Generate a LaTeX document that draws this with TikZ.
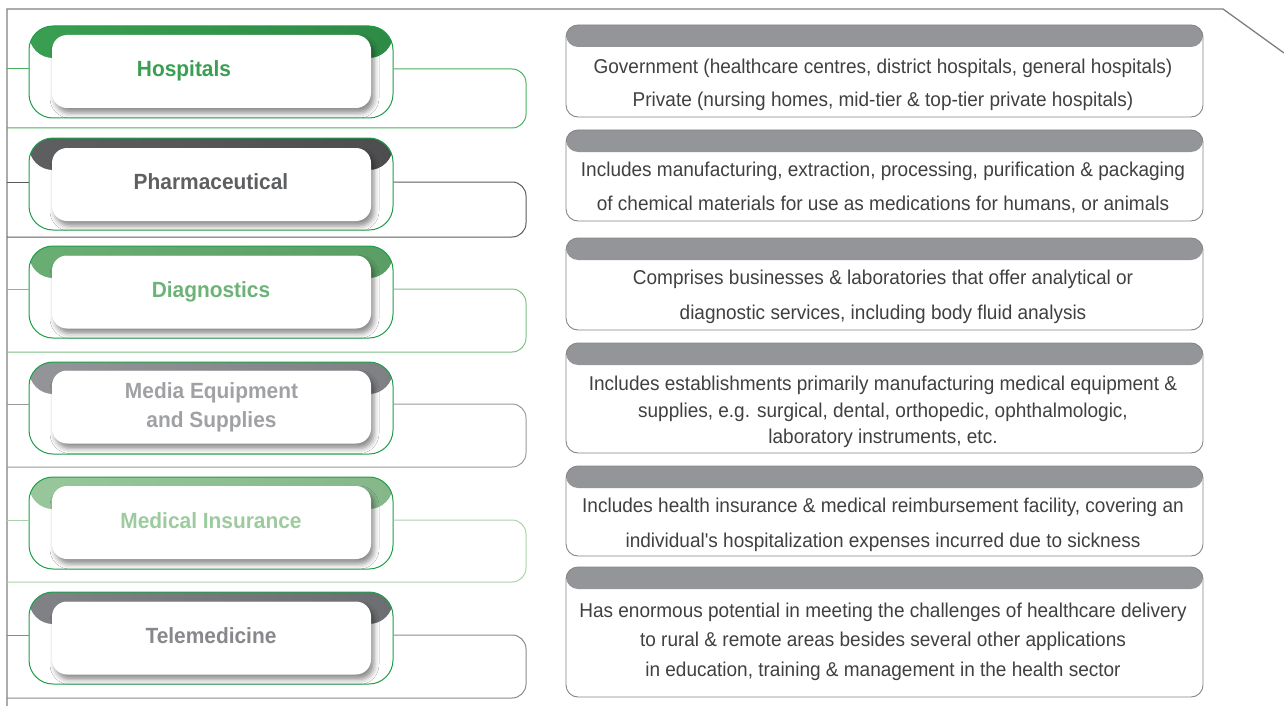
\documentclass[tikz,border=0pt]{standalone}
\usepackage{fontspec}
\setmainfont{Liberation Sans}
\newfontfamily\descfont[FakeStretch=0.95]{Liberation Sans}
\newfontfamily\labfont[FakeStretch=0.95]{Liberation Sans}
\usetikzlibrary{shadows.blur}
\definecolor{framegray}{HTML}{7F7F7F}
\definecolor{boxgreen}{HTML}{1E9E4A}
\definecolor{descgray}{HTML}{858585}
\definecolor{bandgray}{HTML}{939598}
\definecolor{desctext}{HTML}{404041}
% band colours (left/right)
\definecolor{bandA}{HTML}{3A9F52}\definecolor{bandAr}{HTML}{2E8A45}
\definecolor{bandB}{HTML}{5E5F61}\definecolor{bandBr}{HTML}{4D4D4F}
\definecolor{bandC}{HTML}{6AAE74}\definecolor{bandCr}{HTML}{5A9E65}
\definecolor{bandD}{HTML}{939598}\definecolor{bandDr}{HTML}{7E8083}
\definecolor{bandE}{HTML}{98C79B}\definecolor{bandEr}{HTML}{86B78A}
\definecolor{bandF}{HTML}{818285}\definecolor{bandFr}{HTML}{6D6E71}
% label colours
\definecolor{labA}{HTML}{3A9F52}
\definecolor{labB}{HTML}{5E5F61}
\definecolor{labC}{HTML}{6DB377}
\definecolor{labD}{HTML}{A0A1A4}
\definecolor{labE}{HTML}{9DCB9F}
\definecolor{labF}{HTML}{87888B}
% connector colours
\definecolor{conA}{HTML}{4CAF60}
\definecolor{conB}{HTML}{5A5A5C}
\definecolor{conC}{HTML}{7CBF85}
\definecolor{conD}{HTML}{9A9A9C}
\definecolor{conE}{HTML}{A9D3A9}
\definecolor{conF}{HTML}{8A8A8C}
\begin{document}
\begin{tikzpicture}[x=1pt,y=-1pt,
  framestyle/.style={draw=framegray, line width=1.3pt},
  conn/.style={line width=1pt},
  outerbox/.style 2 args={draw=boxgreen, line width=1pt, fill=white,
    rounded corners=24pt, minimum width=364pt, minimum height=92pt, inner sep=0pt,
    path picture={\shade[left color=#1, right color=#2]
      (path picture bounding box.north west) rectangle
      ([yshift=-32pt]path picture bounding box.north east);}},
  innerbox/.style={fill=white, rounded corners=15pt, minimum width=319pt,
    minimum height=73pt, inner sep=0pt,
    blur shadow={shadow xshift=3pt, shadow yshift=-5pt,
      shadow blur radius=5pt, shadow opacity=45}},
  lab/.style={font={\labfont\bfseries\fontsize{22pt}{29pt}\selectfont},
    align=center, inner sep=0pt},
  descbox/.style={draw=descgray, line width=0.9pt, fill=white,
    rounded corners=12pt, minimum width=637pt, inner sep=0pt,
    path picture={\fill[bandgray]
      (path picture bounding box.north west) rectangle
      ([yshift=-22pt]path picture bounding box.north east);}},
  desc/.style={font={\descfont\fontsize{20pt}{#1pt}\selectfont},
    align=center, text=desctext, inner sep=0pt}]
\useasboundingbox (0,0) rectangle (1284,706);

% outer frame
\coordinate (fa) at (1284,53);
\coordinate (fb) at (1223,9);
\coordinate (fc) at (7,9);
\coordinate (fd) at (7,706);
\draw[framestyle] (fa) -- (fb) -- (fc) -- (fd);

% ---------- left: category boxes ----------
\node[outerbox={bandA}{bandAr}] (o1) at (211,72) {};
\node[outerbox={bandB}{bandBr}] (o2) at (211,184) {};
\node[outerbox={bandC}{bandCr}] (o3) at (211,292) {};
\node[outerbox={bandD}{bandDr}] (o4) at (211,408) {};
\node[outerbox={bandE}{bandEr}] (o5) at (211,523) {};
\node[outerbox={bandF}{bandFr}] (o6) at (211,638) {};

% connectors
\coordinate (f1) at (7,69);  \coordinate (b1) at (7,128); \coordinate (r1) at (526,128);
\coordinate (f2) at (7,182); \coordinate (b2) at (7,237); \coordinate (r2) at (526,237);
\coordinate (f3) at (7,289); \coordinate (b3) at (7,352); \coordinate (r3) at (526,352);
\coordinate (f4) at (7,404); \coordinate (b4) at (7,467); \coordinate (r4) at (526,467);
\coordinate (f5) at (7,520); \coordinate (b5) at (7,582); \coordinate (r5) at (526,582);
\coordinate (f6) at (7,635); \coordinate (b6) at (7,698); \coordinate (r6) at (526,698);

\draw[conn, conA] (f1) -- (o1.west |- f1);
\draw[conn, conA, rounded corners=14pt] (o1.east |- f1) -| (r1) -- (b1);
\draw[conn, conB] (f2) -- (o2.west |- f2);
\draw[conn, conB, rounded corners=14pt] (o2.east |- f2) -| (r2) -- (b2);
\draw[conn, conC] (f3) -- (o3.west |- f3);
\draw[conn, conC, rounded corners=14pt] (o3.east |- f3) -| (r3) -- (b3);
\draw[conn, conD] (f4) -- (o4.west |- f4);
\draw[conn, conD, rounded corners=14pt] (o4.east |- f4) -| (r4) -- (b4);
\draw[conn, conE] (f5) -- (o5.west |- f5);
\draw[conn, conE, rounded corners=14pt] (o5.east |- f5) -| (r5) -- (b5);
\draw[conn, conF] (f6) -- (o6.west |- f6);
\draw[conn, conF, rounded corners=14pt] (o6.east |- f6) -| (r6) -- (b6);

% inner white boxes
\node[innerbox] (i1) at (211.5,71.5) {};
\node[innerbox] (i2) at (211.5,184.5) {};
\node[innerbox] (i3) at (211.5,292) {};
\node[innerbox] (i4) at (211.5,407) {};
\node[innerbox] (i5) at (211.5,522.5) {};
\node[innerbox] (i6) at (211.5,638) {};

% labels
\node[lab, text=labA, anchor=base] (l1) at (184,77) {Hospitals};
\node[lab, text=labB, anchor=base] (l2) at (211,189) {Pharmaceutical};
\node[lab, text=labC, anchor=base] (l3) at (211,297) {Diagnostics};
\node[lab, text=labD] (l4) at (211.5,407) {Media Equipment\\and Supplies};
\node[lab, text=labE, anchor=base] (l5) at (211,528) {Medical Insurance};
\node[lab, text=labF, anchor=base] (l6) at (211,643) {Telemedicine};

% ---------- right: description boxes ----------
\node[descbox, minimum height=92pt] (d1) at (884.5,71) {};
\node[descbox, minimum height=91pt] (d2) at (884.5,175.5) {};
\node[descbox, minimum height=92pt] (d3) at (884.5,284) {};
\node[descbox, minimum height=110pt] (d4) at (884.5,398) {};
\node[descbox, minimum height=90pt] (d5) at (884.5,511) {};
\node[descbox, minimum height=130pt] (d6) at (884.5,632) {};

\node[desc=33] (t1) at (883,84.5) {Government (healthcare centres, district hospitals, general hospitals)\\Private (nursing homes, mid-tier \& top-tier private hospitals)};
\node[desc=34] (t2) at (883,188) {Includes manufacturing, extraction, processing, purification \& packaging\\of chemical materials for use as medications for humans, or animals};
\node[desc=35] (t3) at (883,297) {Comprises businesses \& laboratories that offer analytical or\\diagnostic services, including body fluid analysis};
\node[desc=26.5] (t4) at (883,412) {Includes establishments primarily manufacturing medical equipment \&\\supplies, e.g. surgical, dental, orthopedic, ophthalmologic,\\laboratory instruments, etc.};
\node[desc=35] (t5) at (883,524.5) {Includes health insurance \& medical reimbursement facility, covering an\\individual's hospitalization expenses incurred due to sickness};
\node[desc=29.5] (t6) at (883,641.5) {Has enormous potential in meeting the challenges of healthcare delivery\\to rural \& remote areas besides several other applications\\in education, training \& management in the health sector};
\end{tikzpicture}
\end{document}
